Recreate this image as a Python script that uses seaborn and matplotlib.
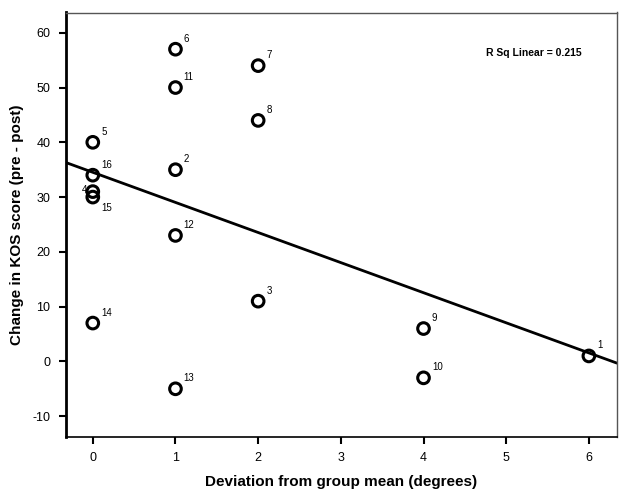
import numpy as np
import pandas as pd
import matplotlib
matplotlib.use("Agg")
import matplotlib.pyplot as plt
import seaborn as sns

# Data
case_ids = [1, 2, 3, 4, 5, 6, 7, 8, 9, 10, 11, 12, 13, 14, 15, 16]
deviation = [6, 1, 2, 0, 0, 1, 2, 2, 4, 4, 1, 1, 1, 0, 0, 0]
kos_change = [1, 35, 11, 31, 40, 57, 54, 44, 6, -3, 50, 23, -5, 7, 30, 34]
x_ticks = [0, 1, 2, 3, 4, 5, 6]
y_ticks = [-10, 0, 10, 20, 30, 40, 50, 60]
r_sq_text = "R Sq Linear = 0.215"

df = pd.DataFrame({"id": case_ids, "dev": deviation, "kos": kos_change})

sns.set_style("white")
plt.rcParams["font.family"] = ["Liberation Sans", "DejaVu Sans"]
plt.rcParams["text.color"] = "black"
plt.rcParams["axes.labelcolor"] = "black"
plt.rcParams["xtick.color"] = "black"
plt.rcParams["ytick.color"] = "black"
plt.rcParams["axes.unicode_minus"] = False

fig = plt.figure(figsize=(6.29, 5.03), dpi=100)
ax = fig.add_axes([65.5 / 629, 1 - 437 / 503, (617 - 65.5) / 629, (437 - 12.5) / 503])
ax.set_xlim(-0.33, 6.34)
ax.set_ylim(-13.8, 63.7)

sns.regplot(data=df, x="dev", y="kos", ax=ax, ci=None, truncate=False,
            scatter_kws=dict(s=70, facecolors="none", edgecolors="black",
                             linewidths=2.2, alpha=1),
            line_kws=dict(color="black", lw=2))

# point labels, small and to the upper right except a couple
for cid, xv, yv in zip(case_ids, deviation, kos_change):
    dx, dy, ha, va = 6, 4, "left", "bottom"
    if cid == 15:
        dx, dy, ha, va = 6, -4, "left", "top"
    elif cid == 4:
        dx, dy, ha, va = -4, 1, "right", "center"
    ax.annotate(str(cid), (xv, yv), xytext=(dx, dy), textcoords="offset points",
                ha=ha, va=va, fontsize=7)

ax.text(0.935, 0.905, r_sq_text, transform=ax.transAxes, ha="right", va="center",
        fontsize=7.5, fontweight="bold")

ax.set_xticks(x_ticks)
ax.set_yticks(y_ticks)
ax.tick_params(axis="both", direction="out", length=5, width=1.5, labelsize=9,
               bottom=True, left=True, color="black", pad=6)
ax.spines["left"].set_color("black")
ax.spines["left"].set_linewidth(2)
ax.spines["bottom"].set_color("black")
ax.spines["bottom"].set_linewidth(1.2)
for side in ["top", "right"]:
    ax.spines[side].set_color("#555555")
    ax.spines[side].set_linewidth(1)

ax.set_xlabel("Deviation from group mean (degrees)", fontsize=11, fontweight="bold", labelpad=8)
ax.set_ylabel("Change in KOS score (pre - post)", fontsize=11, fontweight="bold", labelpad=6)

fig.savefig("out.png", dpi=100)
